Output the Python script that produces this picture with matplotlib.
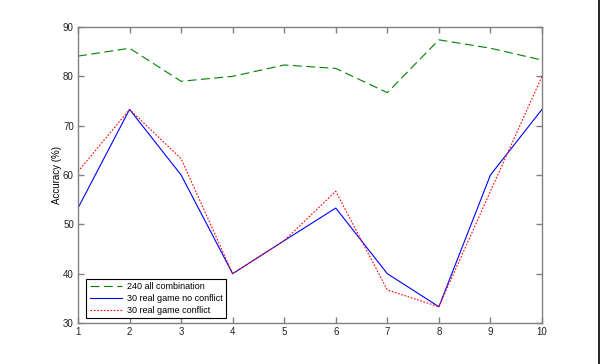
import matplotlib
matplotlib.use("Agg")
import matplotlib.pyplot as plt
from matplotlib.lines import Line2D

plt.rcParams.update({"font.family": ["Liberation Sans", "DejaVu Sans"], "font.size": 7})

# data
runs = list(range(1, 11))
all_combination = [84.1, 85.7, 79.0, 80.0, 82.3, 81.6, 76.7, 87.4, 85.7, 83.3]
real_no_conflict = [53.3, 73.3, 60.0, 40.0, 46.7, 53.3, 40.0, 33.3, 60.0, 73.3]
real_conflict = [60.7, 73.3, 63.3, 40.0, 46.7, 56.7, 36.7, 33.3, 56.7, 80.0]

y_ticks = [30, 40, 50, 60, 70, 80, 90]

fig = plt.figure(figsize=(6, 3.64), dpi=100)
ax = fig.add_axes([0.13, 0.1126, 0.7733, 0.8132])

ax.plot(runs, all_combination, color="#008000", linestyle=(0, (8, 4)), linewidth=0.8,
        label="240 all combination")
ax.plot(runs, real_no_conflict, color="#0000ff", linestyle="-", linewidth=0.8,
        label="30 real game no conflict")
ax.plot(runs, real_conflict, color="#ff0000", linestyle=(0, (1.5, 1.5)), linewidth=0.8,
        label="30 real game conflict")

ax.set_xlim(1, 10)
ax.set_ylim(30, 90)
ax.set_xticks(runs)
ax.set_yticks(y_ticks)
ax.set_ylabel("Accuracy (%)", labelpad=1)

for s in ax.spines.values():
    s.set_color("#808080")
    s.set_linewidth(1.0)
ax.tick_params(direction="in", top=True, right=True, length=4, width=1.0,
               color="#808080", labelsize=7, labelcolor="#222222", pad=3)

leg = ax.legend(loc="lower left", bbox_to_anchor=(0.008, 0.0), fancybox=False,
                edgecolor="black", framealpha=1, fontsize=6.5, handlelength=3.6,
                borderpad=0.4, labelspacing=0.3, handletextpad=0.5)
leg.get_frame().set_linewidth(0.8)

fig.add_artist(Line2D([0.9985, 0.9985], [0, 1], color="black", linewidth=1.2,
                      transform=fig.transFigure))

fig.savefig("out.png", dpi=100)
